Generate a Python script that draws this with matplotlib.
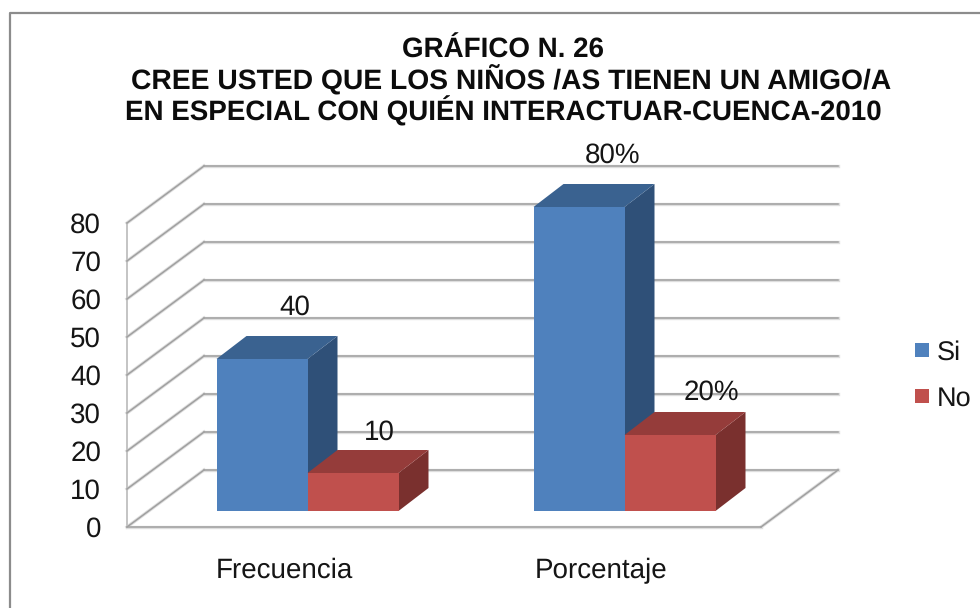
import matplotlib
matplotlib.use("Agg")
import matplotlib.pyplot as plt
from matplotlib.transforms import Affine2D
from matplotlib.patches import Polygon, Rectangle
from matplotlib.lines import Line2D

plt.rcParams['font.family'] = ['Liberation Sans', 'DejaVu Sans']
plt.rcParams['text.hinting'] = 'no_hinting'

W, H = 980, 608
title_lines = ["GRÁFICO N. 26",
               "CREE USTED QUE LOS NIÑOS /AS TIENEN UN AMIGO/A",
               "EN ESPECIAL CON QUIÉN INTERACTUAR-CUENCA-2010"]
categories = ["Frecuencia", "Porcentaje"]
si_values = [40, 80]
no_values = [10, 20]
si_labels = ["40", "80%"]
no_labels = ["10", "20%"]
y_ticks = [0, 10, 20, 30, 40, 50, 60, 70, 80]
series_names = ["Si", "No"]

C = {"Si": ("#4F81BD", "#3A6290", "#2F5078"),
     "No": ("#C0504D", "#953C3A", "#7A302E")}
GRID = "#A0A0A0"
HALO = "#DEDEDE"
WALL = "#C4C4C4"
INK = "#151515"

fig = plt.figure(figsize=(W / 100, H / 100), dpi=100, facecolor="white")


def fx(px):
    return px / W


def fy(py):
    return 1 - py / H


# Front plane of the pseudo-3D box
L, R, T, B = 127, 761, 223, 527
ax = fig.add_axes([fx(L), fy(B), (R - L) / W, (B - T) / H])
ax.set_xlim(-0.5, 1.5)
ax.set_ylim(0, 80)
ax.axis("off")

DEPTH = (77, 57)           # box depth in px
BAR_START = (22, 16)       # bars' front face offset
BAR_DEPTH = (30, 23)       # bars' depth
BAR_W = 91 / 317           # one bar in category units
# hand-placed label offsets (px from the top centre of the bar's front face)
SI_LABEL_OFF = [(33, 54), (34, 54)]
NO_LABEL_OFF = [(26, 43), (41, 45)]


def off(dx, dy):
    return ax.transData + Affine2D().translate(dx, dy)


def glow(xs, ys, tr):
    ax.add_line(Line2D(xs, ys, color=HALO, lw=2.4, transform=tr, clip_on=False, zorder=1))
    ax.add_line(Line2D(xs, ys, color=GRID, lw=1.1, transform=tr, clip_on=False, zorder=1.1))


# Walls and gridlines
back = off(*DEPTH)
for v in y_ticks:
    glow([-0.5, 1.5], [v, v], back)
    x0, y0 = ax.transData.transform((-0.5, v))
    glow([x0, x0 + DEPTH[0]], [y0, y0 + DEPTH[1]], None)
ax.add_line(Line2D([-0.5, -0.5], [0, 80], color=WALL, lw=1.4, clip_on=False, zorder=1))
glow([-0.5, 1.5], [0, 0], ax.transData)
xr, yr = ax.transData.transform((1.5, 0))
glow([xr, xr + DEPTH[0]], [yr, yr + DEPTH[1]], None)


def bar3d(cat, val, name, side, z):
    front, top, right = C[name]
    x0 = cat + (0 if side > 0 else -BAR_W)
    x1 = x0 + BAR_W
    tr = off(*BAR_START)
    p = [tr.transform(q) for q in [(x0, 0), (x1, 0), (x1, val), (x0, val)]]
    dx, dy = BAR_DEPTH
    ax.add_patch(Polygon([p[1], (p[1][0] + dx, p[1][1] + dy), (p[2][0] + dx, p[2][1] + dy), p[2]],
                         closed=True, fc=right, ec="none", transform=None, zorder=z, clip_on=False))
    ax.add_patch(Polygon([p[3], p[2], (p[2][0] + dx, p[2][1] + dy), (p[3][0] + dx, p[3][1] + dy)],
                         closed=True, fc=top, ec="none", transform=None, zorder=z, clip_on=False))
    ax.add_patch(Polygon(p, closed=True, fc=front, ec="none", transform=None, zorder=z, clip_on=False))


for i in range(len(categories)):
    bar3d(i, si_values[i], "Si", -1, 3)
    bar3d(i, no_values[i], "No", 1, 4)

# Data labels
for i in range(len(categories)):
    for lab, val, sign, o in ((si_labels[i], si_values[i], -1, SI_LABEL_OFF[i]),
                              (no_labels[i], no_values[i], 1, NO_LABEL_OFF[i])):
        ax.annotate(lab, (i + sign * BAR_W / 2, val), xycoords="data",
                    xytext=(BAR_START[0] + o[0], BAR_START[1] + o[1]),
                    textcoords="offset pixels", ha="center", va="center_baseline",
                    fontsize=20, color=INK, zorder=6, annotation_clip=False)

# Axis labels
for v in y_ticks:
    ax.annotate(str(v), (-0.5, v), xytext=(-26, 0), textcoords="offset pixels",
                ha="right", va="center_baseline", fontsize=20, color=INK, annotation_clip=False)
for i, c in enumerate(categories):
    ax.annotate(c, (i, 0), xytext=(-1, -41), textcoords="offset pixels",
                ha="center", va="center_baseline", fontsize=20, color=INK, annotation_clip=False)

# Title
for line, px, py, size in zip(title_lines, [503, 511.5, 503], [58, 89, 120.5], [20, 20.3, 20]):
    fig.text(fx(px), fy(py), line, ha="center", va="baseline", fontsize=size, fontweight="bold", color="#0c0c0c")

# Legend
for name, py in zip(series_names, [350, 396]):
    fig.add_artist(Rectangle((fx(915), fy(py + 7)), 14 / W, 14 / H, transform=fig.transFigure,
                             fc=C[name][0], ec="none"))
    fig.text(fx(937), fy(py), name, ha="left", va="center_baseline", fontsize=19.5, color=INK)

# Outer frame (only left and top are visible)
fig.add_artist(Line2D([fx(10), fx(10), 1], [0, fy(12.5), fy(12.5)], color="#8C8C8C", lw=1.6,
                      transform=fig.transFigure))

fig.savefig("out.png", dpi=100)
